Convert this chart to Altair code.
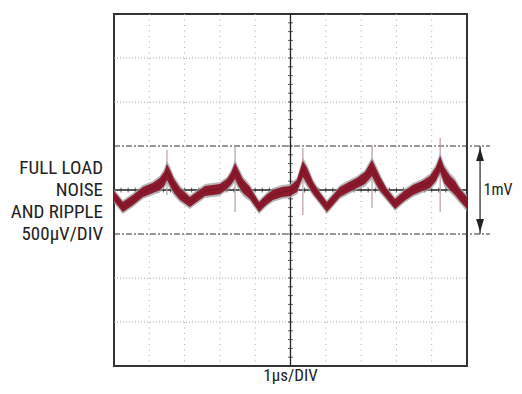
import altair as alt
import pandas as pd

# ---- trace: time in µs, centre value in mV, noise half-band in mV
trace_t = [0.00, 0.25, 0.54, 0.82, 1.10, 1.30, 1.42, 1.50, 1.59, 1.70, 1.87, 2.15, 2.38, 2.58,
           2.80, 3.00, 3.20, 3.31, 3.43, 3.51, 3.65, 3.85, 4.11, 4.31, 4.50, 4.76, 4.99, 5.18,
           5.35, 5.47, 5.64, 5.84, 6.03, 6.23, 6.40, 6.66, 6.88, 7.11, 7.31, 7.42, 7.54, 7.73,
           7.96, 8.22, 8.47, 8.73, 8.95, 9.12, 9.24, 9.35, 9.52, 9.66, 9.80, 10.00]
trace_v = [-0.068, -0.193, -0.114, -0.023, 0.023, 0.068, 0.125, 0.205, 0.136, 0.045, -0.045,
           -0.136, -0.068, -0.011, 0.000, 0.011, 0.068, 0.125, 0.216, 0.148, 0.045, -0.034,
           -0.193, -0.114, -0.057, -0.023, -0.011, 0.045, 0.239, 0.159, 0.023, -0.091, -0.193,
           -0.102, -0.023, 0.034, 0.080, 0.136, 0.250, 0.159, 0.068, -0.045, -0.159, -0.068,
           0.000, 0.045, 0.091, 0.182, 0.295, 0.170, 0.080, 0.023, -0.057, -0.148]
trace_noise = [0.057, 0.057, 0.057, 0.057, 0.057, 0.068, 0.080, 0.091, 0.091, 0.080, 0.068,
               0.057, 0.057, 0.057, 0.057, 0.057, 0.057, 0.068, 0.091, 0.091, 0.080, 0.068,
               0.057, 0.057, 0.057, 0.057, 0.057, 0.068, 0.091, 0.091, 0.068, 0.057, 0.057,
               0.057, 0.057, 0.057, 0.057, 0.068, 0.091, 0.091, 0.080, 0.057, 0.057, 0.057,
               0.057, 0.057, 0.068, 0.080, 0.091, 0.091, 0.080, 0.080, 0.068, 0.068]

# switching spikes
spike_t = [1.50, 3.43, 5.35, 7.31, 9.24]
spike_top = [0.455, 0.489, 0.477, 0.511, 0.591]
spike_bottom = [-0.057, -0.250, -0.284, -0.205, -0.250]

# graticule
grid_t = [1, 2, 3, 4, 6, 7, 8, 9]
grid_v = [-1.5, -1.0, 1.0, 1.5]
cursor_v = [-0.5, 0.5]
minor_t = [round(0.2 * i, 1) for i in range(1, 50)]
minor_v = [round(0.1 * i - 2, 1) for i in range(1, 40)]

left_labels = ["FULL LOAD", "NOISE", "AND RIPPLE", "500µV/DIV"]
left_label_v = [0.25, 0.0, -0.25, -0.5]

XS = alt.Scale(domain=[0, 10], nice=False, zero=False)
YS = alt.Scale(domain=[-2, 2], nice=False, zero=False)


def X(f="t"):
    return alt.X(f"{f}:Q", scale=XS, axis=None)


def Y(f="v"):
    return alt.Y(f"{f}:Q", scale=YS, axis=None)


trace_df = pd.DataFrame({
    "t": trace_t,
    "v": trace_v,
    "lo": [v - n for v, n in zip(trace_v, trace_noise)],
    "hi": [v + n for v, n in zip(trace_v, trace_noise)],
    "lo2": [v - n * 1.4 for v, n in zip(trace_v, trace_noise)],
    "hi2": [v + n * 1.4 for v, n in zip(trace_v, trace_noise)],
})
spike_df = pd.DataFrame({"t": spike_t, "top": spike_top, "bottom": spike_bottom})

vgrid = alt.Chart(pd.DataFrame({"t": grid_t})).mark_rule(
    color="#a8a8a8", strokeWidth=1, strokeDash=[1, 4.5]
).encode(x=X(), y=alt.value(0), y2=alt.value(352))

hgrid = alt.Chart(pd.DataFrame({"v": grid_v})).mark_rule(
    color="#a8a8a8", strokeWidth=1, strokeDash=[1, 2]
).encode(y=Y(), x=alt.value(0), x2=alt.value(353))

cursors = alt.Chart(pd.DataFrame({"v": cursor_v, "t0": [0, 0], "t1": [10.65, 10.65]})).mark_rule(
    color="#333333", strokeWidth=1.2, strokeDash=[6, 2, 2, 2]
).encode(y=Y(), x=X("t0"), x2="t1:Q")

center_v = alt.Chart(pd.DataFrame({"t": [5]})).mark_rule(color="#222222", strokeWidth=1.3).encode(
    x=X(), y=alt.value(0), y2=alt.value(352))
center_h = alt.Chart(pd.DataFrame({"v": [0]})).mark_rule(color="#222222", strokeWidth=1.3).encode(
    y=Y(), x=alt.value(0), x2=alt.value(353))

ticks_h = alt.Chart(pd.DataFrame({"t": minor_t, "v": [0] * len(minor_t)})).mark_tick(
    orient="vertical", size=5, thickness=1, color="#222222"
).encode(x=X(), y=Y())
ticks_v = alt.Chart(pd.DataFrame({"v": minor_v, "t": [5] * len(minor_v)})).mark_tick(
    orient="horizontal", size=5, thickness=1, color="#222222"
).encode(x=X(), y=Y())

band_gray = alt.Chart(trace_df).mark_area(color="#9c9c9c", opacity=0.75).encode(
    x=X(), y=Y("lo2"), y2="hi2:Q")
spikes = alt.Chart(spike_df).mark_rule(color="#b8a0a6", strokeWidth=1.2).encode(
    x=X(), y=Y("top"), y2="bottom:Q")
band = alt.Chart(trace_df).mark_area(color="#8c1a2e").encode(
    x=X(), y=Y("lo"), y2="hi:Q")
core = alt.Chart(trace_df).mark_line(color="#7e1526", strokeWidth=1.5).encode(x=X(), y=Y())

arrow_line = alt.Chart(pd.DataFrame({"t": [10.37], "a": [0.5], "b": [-0.5]})).mark_rule(
    color="#222222", strokeWidth=1.2).encode(x=X(), y=Y("a"), y2="b:Q")
arrow_up = alt.Chart(pd.DataFrame({"t": [10.37], "v": [0.403]})).mark_point(
    shape="M0,-1L0.6,1L-0.6,1Z", size=169, filled=True, color="#222222", opacity=1
).encode(x=X(), y=Y())
arrow_dn = alt.Chart(pd.DataFrame({"t": [10.37], "v": [-0.403]})).mark_point(
    shape="M0,1L0.6,-1L-0.6,-1Z", size=169, filled=True, color="#222222", opacity=1
).encode(x=X(), y=Y())

FONT = "Liberation Sans Narrow, Roboto Condensed, Arial Narrow, Liberation Sans, sans-serif"

mv_label = alt.Chart(pd.DataFrame({"t": [10.47], "v": [0.0], "s": ["1mV"]})).mark_text(
    align="left", baseline="middle", font=FONT, fontSize=16, color="#222222"
).encode(x=X(), y=Y(), text="s:N")

left_text = alt.Chart(pd.DataFrame({"t": [-0.31] * 4, "v": left_label_v, "s": left_labels})).mark_text(
    align="right", baseline="middle", font=FONT, fontSize=19, color="#222222"
).encode(x=X(), y=Y(), text="s:N")

x_title = alt.Chart(pd.DataFrame({"t": [5.0], "v": [-2.17], "s": ["1µs/DIV"]})).mark_text(
    align="center", baseline="alphabetic", font=FONT, fontSize=17, color="#222222"
).encode(x=X(), y=Y(), text="s:N")

chart = alt.layer(
    vgrid, hgrid, cursors, center_v, center_h, ticks_h, ticks_v,
    band_gray, spikes, band, core,
    arrow_line, arrow_up, arrow_dn, mv_label, left_text, x_title,
).properties(
    width=353, height=352,
    autosize=alt.AutoSizeParams(type="none"),
    padding={"left": 106, "top": 6, "right": 47, "bottom": 20},
    background="white",
).configure_view(stroke="#333333", strokeWidth=2)

chart.save("out.html", embed_options={"renderer": "svg", "actions": False})
